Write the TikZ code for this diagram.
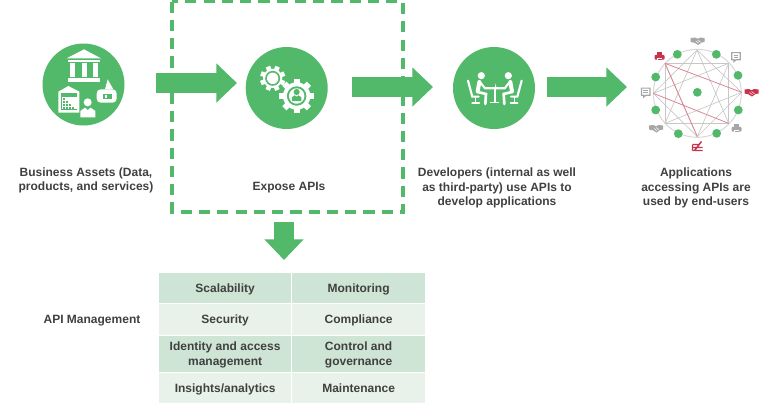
\documentclass[tikz,border=0pt]{standalone}
\usepackage{fontspec}
\setmainfont{Liberation Sans}
\usetikzlibrary{arrows.meta}
\definecolor{gr}{HTML}{53B96A}
\definecolor{txt}{HTML}{404040}
\definecolor{rowa}{HTML}{CEE4D5}
\definecolor{rowb}{HTML}{E8F2EA}
\definecolor{redi}{HTML}{C8324A}
\definecolor{grayi}{HTML}{A6A6A6}
\tikzset{
  x=0.75pt,y=-0.75pt,
  disc/.style={circle,fill=gr,draw=none,minimum size=61.5pt,inner sep=0pt},
  dot/.style={circle,fill=gr,draw=none,minimum size=6.6pt,inner sep=0pt},
  lbl/.style={font=\bfseries\fontsize{9pt}{11pt}\selectfont,text=txt,align=center},
  blockarrow/.style={draw=gr,line width=14.5pt,-{Triangle[length=15.5pt,width=28.5pt]}},
  cell/.style={draw=white,line width=0.9pt,minimum width=100.5pt,anchor=north west,inner sep=0pt},
  zoomed/.style={x=0.25pt,y=-0.25pt},
  web/.style={draw=black!22,line width=0.5pt},
  webred/.style={draw=redi!60,line width=0.6pt},
}
\newcommand{\doc}[1]{\begin{scope}[shift={(#1)}]
  \draw[grayi,line width=0.9pt,fill=white] (-4.3,-4.4) -- (4.3,-4.4) -- (4.3,2.8) -- (0,2.8) -- (-2,4.6) -- (-2,2.8) -- (-4.3,2.8) -- cycle;
  \draw[grayi,line width=0.6pt] (-2.4,-2) -- (2.4,-2) (-2.4,0.2) -- (2.4,0.2);
\end{scope}}
\newcommand{\shake}[2]{\begin{scope}[shift={(#1)}]
  \fill[#2] (-7,-3) -- (-2.5,-3.5) -- (0,-2.2) -- (2.5,-3.5) -- (7,-3) -- (7,1) -- (4,1.5) -- (0.5,4) -- (-3,1.8) -- (-7,1) -- cycle;
  \draw[white,line width=0.4pt] (-2,0) -- (1,2.2) (0,-1) -- (3,1.2);
\end{scope}}
\newcommand{\printer}[2]{\begin{scope}[shift={(#1)}]
  \fill[#2] (-2.8,-4.6) rectangle (2.8,-1);
  \fill[#2,rounded corners=0.8pt] (-5,-1.6) rectangle (5,3.2);
  \fill[white] (-2.6,1) rectangle (2.6,4);
  \fill[#2] (-2,2.4) rectangle (2,3.6);
\end{scope}}
\begin{document}
\begin{tikzpicture}
\useasboundingbox (0,0) rectangle (768,405);

% Main discs
\node[disc] (assets) at (83.5,84.5) {};
\node[disc] (expose) at (286.7,88) {};
\node[disc] (devs) at (494,88) {};

% Bank icon
\begin{scope}[shift={(20,30)},zoomed]
  \fill[white] (140,85) -- (192,58) -- (243,85) -- cycle;
  \fill[white] (143,90) rectangle (240,97);
  \foreach \c in {150,185,220} \fill[white] (\c,100) rectangle (\c+15,141);
  \fill[white] (143,145) rectangle (240,157);
  \fill[white] (115,185) -- (145,168) -- (178,185) -- (178,248) -- (115,248) -- cycle;
  \fill[gr] (123,190) rectangle (170,240);
  \fill[white] (126,202) rectangle (170,237);
  \foreach \r/\n in {205/1,214/2,223/3,232/4}
    \foreach \k in {1,...,\n}
      \fill[gr] (120+\k*9,\r) rectangle (126+\k*9,\r+5);
  \fill[white] (255,178) -- (263,148) -- (280,178) -- cycle;
  \fill[white,rounded corners=3pt] (230,178) rectangle (290,218);
  \fill[gr] (250,192) rectangle (275,206);
  \fill[white] (254,196) rectangle (262,203);
  \fill[white] (203,217) circle[radius=3pt];
  \fill[white] (181,262) -- (181,243) -- (195,233) -- (203,240) -- (212,233) -- (226,243) -- (226,262) -- cycle;
\end{scope}

% Gears
\begin{scope}[shift={(230,30)},zoomed]
  \coordinate (g1) at (128,145);
  \coordinate (g2) at (200,198);
  \foreach \a in {0,45,...,135}
    \fill[white,rotate around={\a+22:(g1)}] (121,107) rectangle (135,183);
  \fill[white] (g1) circle[radius=7.2pt];
  \fill[gr] (g1) circle[radius=5.6pt];
  \fill[white] (g1) circle[radius=4.3pt];
  \foreach \a in {0,45,...,135}
    \fill[white,rotate around={\a:(g2)}] (191,146) rectangle (209,250);
  \fill[white] (g2) circle[radius=10.3pt];
  \fill[gr] (g2) circle[radius=7.3pt];
  \fill[white] (g2) circle[radius=5.8pt];
  \fill[gr] (200,186) circle[radius=2.3pt];
  \fill[gr] (186,213) -- (186,202) -- (194,196) -- (200,200) -- (206,196) -- (214,202) -- (214,213) -- cycle;
\end{scope}

% People at a table
\begin{scope}[shift={(440,30)},zoomed,line cap=round]
  \fill[white] (133,172) rectangle (198,178);
  \fill[white] (161,178) rectangle (167,215);
  \fill[white] (150,215) rectangle (178,219);
  \fill[white] (165,172) -- (167,160) -- (169,172) -- cycle;
  \foreach \s/\o in {1/0,-1/329}{
    \begin{scope}[xscale=\s,xshift=\s*\o*0.25pt]
    \draw[white,line width=1.6pt] (84,152) -- (97,200) -- (116,200);
    \draw[white,line width=1.2pt] (106,200) -- (106,218);
    \draw[white,line width=1pt] (96,219) -- (118,219);
    \fill[white] (124,137) circle[radius=2.7pt];
    \draw[white,line width=3pt] (118,156) -- (113,184);
    \draw[white,line width=1.5pt] (120,156) -- (135,175) -- (160,175);
    \draw[white,line width=2pt] (113,186) -- (138,192) -- (136,222);
    \end{scope}
  }
\end{scope}

% Network
\begin{scope}[shift={(635,30)},zoomed]
  \coordinate (n0) at (186,60);
  \coordinate (n1) at (281,100);
  \coordinate (n2) at (320,187);
  \coordinate (n3) at (281,280);
  \coordinate (n4) at (187,320);
  \coordinate (n5) at (90,280);
  \coordinate (n6) at (55,190);
  \coordinate (n7) at (90,100);
  \draw[draw=black!15,line width=0.8pt] (187,190) circle[radius=33pt];
  % chords two and three steps round the ring
  \foreach \a/\b in {0/2,1/3,2/4,3/5,4/6,5/7,6/0,7/1,0/3,1/4,2/5,4/7,5/0,6/1}
    \draw[web] (n\a) -- (n\b);
  \draw[webred] (n7) -- (n2) (n7) -- (n4) (n6) -- (n3);
  \foreach \p in {(127,73),(244,73),(309,136),(310,240),(245,310),(130,311),(62,240),(62,141),(187,187)}
    \node[dot] at \p {};
\end{scope}
\shake{697.7,41}{grayi}
\doc{736,57}
\shake{751.5,92.5}{redi}
\printer{736.5,128.5}{grayi}
\begin{scope}[shift={(697.5,146.5)}]
  \draw[redi,line width=1.1pt] (-5,4) -- (5,4) (-5,1) -- (5,1) (-5,-2) -- (2,-2) (-5,-2) -- (-5,4) (-3,4) -- (4,-5);
\end{scope}
\shake{656,128.5}{grayi}
\doc{645.7,92.5}
\printer{659.5,56.5}{redi}

% Dashed box
\draw[gr,line width=2.5pt,dash pattern=on 8.4pt off 5.3pt] (172,1.5) rectangle (403,212);

% Block arrows
\coordinate (a1s) at (156,83); \coordinate (a1e) at (237,83);
\coordinate (a2s) at (352,87); \coordinate (a2e) at (433,87);
\coordinate (a3s) at (547,87); \coordinate (a3e) at (627,87);
\coordinate (a4s) at (284,222); \coordinate (a4e) at (284,260);
\draw[blockarrow] (a1s) -- (a1e);
\draw[blockarrow] (a2s) -- (a2e);
\draw[blockarrow] (a3s) -- (a3e);
\draw[blockarrow] (a4s) -- (a4e);

% Labels
\node[lbl] (t1) at (86,180.5) {Business Assets (Data,\\products, and services)};
\node[lbl] (t2) at (289,187.5) {Expose APIs};
\node[lbl] (t3) at (497,188) {Developers (internal as well\\as third-party) use APIs to\\develop applications};
\node[lbl] (t4) at (696,188) {Applications\\accessing APIs are\\used by end-users};
\node[lbl] (t5) at (92,320.5) {API Management};

% Table
\foreach \nm/\cx/\y/\h/\col/\tx in {
  c1/157.5/272/31/rowa/{\vphantom{Ag}Scalability},
  c2/291/272/31/rowa/{\vphantom{Ag}Monitoring},
  c3/157.5/303/32/rowb/{\vphantom{Ag}Security},
  c4/291/303/32/rowb/{\vphantom{Ag}Compliance},
  c5/157.5/335/37/rowa/{Identity and access\\management},
  c6/291/335/37/rowa/{Control and\\governance},
  c7/157.5/372/31/rowb/{\vphantom{Ag}Insights\slash analytics},
  c8/291/372/31/rowb/{\vphantom{Ag}Maintenance}}{
  \node[cell,fill=\col,minimum height=\h*0.75pt] (\nm) at (\cx,\y) {};
  \node[lbl,yshift=-0.75pt] (\nm t) at (\nm.center) {\tx};
}
\end{tikzpicture}
\end{document}
